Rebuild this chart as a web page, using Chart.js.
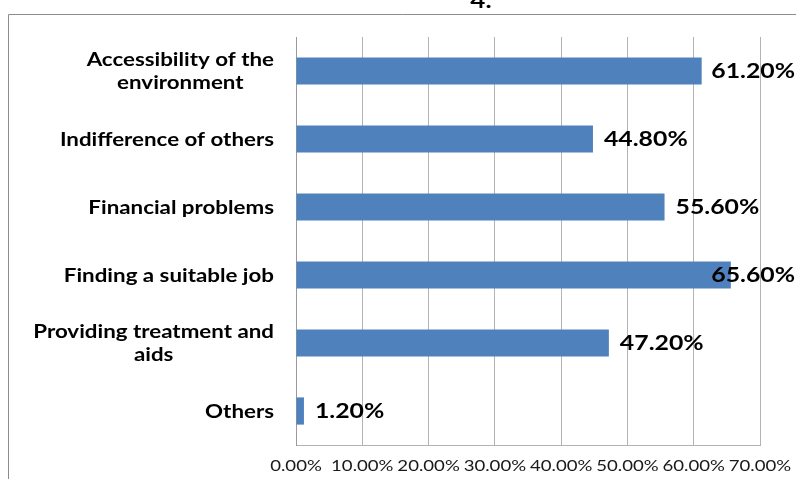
<!DOCTYPE html>
<html>
<head>
<meta charset="utf-8">
<script src="https://cdn.jsdelivr.net/npm/chart.js@4"></script>
<style>
  html, body { margin: 0; padding: 0; background: #ffffff; }
  #wrap { width: 796px; height: 479px; position: relative; }
</style>
</head>
<body>
<div id="wrap"><canvas id="c" width="796" height="479"></canvas></div>
<script>
const categories = [
  ['Accessibility of the', 'environment'],
  ['Indifference of others'],
  ['Financial problems'],
  ['Finding a suitable job'],
  ['Providing treatment and', 'aids'],
  ['Others']
];
const values = [61.2, 44.8, 55.6, 65.6, 47.2, 1.2];
const xTicks = [0, 10, 20, 30, 40, 50, 60, 70];
const titleText = '4.';

const FONT = 'Lato, "Open Sans", sans-serif';
const SX = 1.24; // horizontal stretch of the reference's text

function stretchText(ctx, txt, x, y, align, sx) {
  ctx.save();
  ctx.translate(x, y);
  ctx.scale(sx, 1);
  ctx.textAlign = align;
  ctx.fillText(txt, 0, 0);
  ctx.restore();
}

const framePlugin = {
  id: 'frame',
  beforeDraw(chart) {
    const ctx = chart.ctx;
    ctx.save();
    ctx.fillStyle = '#ffffff';
    ctx.fillRect(0, 0, chart.width, chart.height);
    ctx.strokeStyle = '#8c8c8c';
    ctx.lineWidth = 1;
    ctx.beginPath();
    ctx.moveTo(8.5, chart.height + 2);
    ctx.lineTo(8.5, 14.5);
    ctx.lineTo(chart.width + 2, 14.5);
    ctx.stroke();
    ctx.fillStyle = '#000000';
    ctx.font = 'bold 21px ' + FONT;
    ctx.textBaseline = 'alphabetic';
    stretchText(ctx, titleText, 481, 7.5, 'center', SX);
    ctx.restore();
  },
  afterDraw(chart) {
    const ctx = chart.ctx;
    const y = chart.scales.y;
    const x = chart.scales.x;
    ctx.save();
    ctx.fillStyle = '#000000';
    // category labels: block right-aligned, lines centered
    ctx.font = 'bold 18px ' + FONT;
    ctx.textBaseline = 'middle';
    const lineH = 23;
    const rightEdge = 274;
    categories.forEach((lines, i) => {
      const cy = y.getPixelForValue(i) + 1;
      const w = Math.max(...lines.map(l => ctx.measureText(l).width)) * SX;
      const cx = rightEdge - w / 2;
      const y0 = cy - (lines.length - 1) * lineH / 2;
      lines.forEach((l, k) => stretchText(ctx, l, cx, y0 + k * lineH, 'center', SX));
    });
    // value labels
    ctx.font = 'bold 20px ' + FONT;
    values.forEach((v, i) => {
      const cy = y.getPixelForValue(i) + 1;
      const txt = v.toFixed(2) + '%';
      const w = ctx.measureText(txt).width * SX;
      let px = x.getPixelForValue(v) + 11;
      if (px + w > chart.width - 1) px = chart.width - 1 - w;
      stretchText(ctx, txt, px, cy, 'left', SX);
    });
    // x tick labels
    ctx.font = '15px ' + FONT;
    ctx.fillStyle = '#1a1a1a';
    xTicks.forEach(v => {
      stretchText(ctx, v.toFixed(2) + '%', x.getPixelForValue(v), 466, 'center', SX);
    });
    ctx.restore();
  }
};

new Chart(document.getElementById('c'), {
  type: 'bar',
  data: {
    labels: categories.map(l => l.join(' ')),
    datasets: [{
      data: values,
      backgroundColor: '#4f81bd',
      borderWidth: 0,
      categoryPercentage: 0.8,
      barPercentage: 0.5
    }]
  },
  options: {
    indexAxis: 'y',
    responsive: false,
    animation: false,
    events: [],
    layout: { padding: { left: 0, right: 36, top: 37, bottom: 0 } },
    plugins: { legend: { display: false }, tooltip: { enabled: false }, title: { display: false } },
    scales: {
      x: {
        min: 0, max: 70,
        afterBuildTicks(s) { s.ticks = xTicks.map(v => ({ value: v })); },
        afterFit(s) { s.height = 34; },
        grid: { color: '#b3b3b3', lineWidth: 1, drawTicks: false },
        border: { color: '#b3b3b3' },
        ticks: { display: false }
      },
      y: {
        afterFit(s) { s.width = 296; },
        grid: { display: false, drawTicks: false },
        border: { display: true, color: '#9a9a9a' },
        ticks: { display: false }
      }
    }
  },
  plugins: [framePlugin]
});
</script>
</body>
</html>
